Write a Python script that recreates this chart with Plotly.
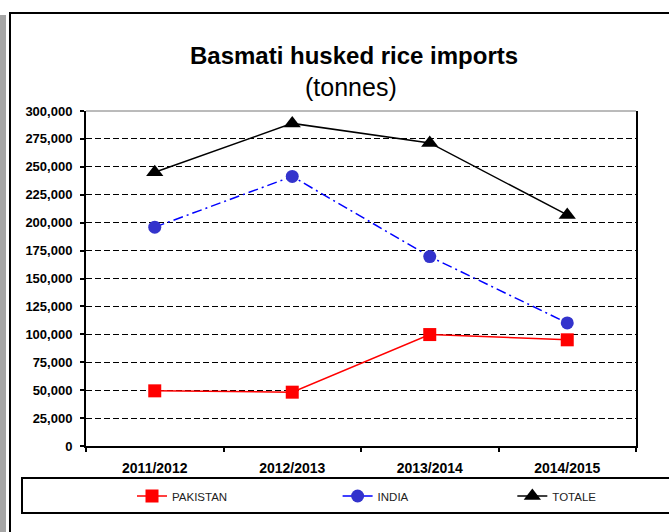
import plotly.graph_objects as go

categories = ["2011/2012", "2012/2013", "2013/2014", "2014/2015"]
pakistan = [49400, 48200, 99800, 95100]
india = [196000, 241400, 169600, 110200]
totale = [245200, 288900, 271400, 206900]
y_ticks = list(range(0, 300001, 25000))
series_names = ["PAKISTAN", "INDIA", "TOTALE"]

W, H = 669, 532
L, R, T, B = 86, 33, 111, 86
PW, PH = W - L - R, H - T - B

def px(x):
    return (x - L) / PW

def py(y):
    return (H - B - y) / PH

FONT = "Liberation Sans, Arial, sans-serif"
NB = "\u00a0"

fig = go.Figure()
fig.add_trace(go.Scatter(
    x=categories, y=pakistan, name=series_names[0] + NB * 33, mode="lines+markers",
    line=dict(color="#FF0000", width=1.5),
    marker=dict(symbol="square", size=13, color="#FF0000"),
))
fig.add_trace(go.Scatter(
    x=categories, y=india, name=series_names[1] + NB * 31, mode="lines+markers",
    line=dict(color="#0000FF", width=1.5, dash="10px,4px,2px,4px"),
    marker=dict(symbol="circle", size=13, color="#3333CC"),
))
fig.add_trace(go.Scatter(
    x=categories, y=totale, name=series_names[2], mode="lines+markers",
    line=dict(color="#000000", width=1.5),
    marker=dict(symbol="triangle-up", size=15, color="#000000"),
))

shapes = [
    dict(type="rect", xref="paper", yref="paper", x0=px(0), x1=px(6), y0=py(15), y1=py(560),
         fillcolor="#A6A6A6", line=dict(width=0)),
    dict(type="rect", xref="paper", yref="paper", x0=px(10), x1=px(700), y0=py(13), y1=py(560),
         fillcolor="rgba(0,0,0,0)", line=dict(color="#000000", width=2)),
    dict(type="rect", xref="paper", yref="paper", x0=px(22), x1=px(700), y0=py(478), y1=py(513),
         fillcolor="rgba(0,0,0,0)", line=dict(color="#000000", width=2)),
    dict(type="line", xref="paper", yref="paper", x0=0, x1=1, y0=1, y1=1,
         line=dict(color="#777777", width=1)),
]

fig.update_layout(
    width=W, height=H,
    margin=dict(l=L, r=R, t=T, b=B),
    paper_bgcolor="white", plot_bgcolor="white",
    font=dict(family=FONT, color="#000000"),
    showlegend=True,
    legend=dict(
        orientation="h", x=px(132), xanchor="left", y=py(496), yanchor="middle",
        font=dict(family=FONT, size=11.5, color="#222222"),
        bgcolor="rgba(0,0,0,0)", borderwidth=0,
    ),
    shapes=shapes,
    annotations=[
        dict(text="<b>Basmati husked rice imports</b>", xref="paper", yref="paper",
             x=px(353.5), y=py(55), xanchor="center", yanchor="middle", showarrow=False,
             font=dict(family=FONT, size=24, color="#000000")),
        dict(text="(tonnes)", xref="paper", yref="paper",
             x=px(351), y=py(87), xanchor="center", yanchor="middle", showarrow=False,
             font=dict(family=FONT, size=25, color="#000000")),
    ],
)

fig.update_xaxes(
    type="category", range=[-0.5, 3.5], tickson="boundaries",
    showline=True, linecolor="#000000", linewidth=2, mirror=False,
    ticks="outside", ticklen=4, tickwidth=1.5, tickcolor="#000000",
    showgrid=False, zeroline=False,
    tickfont=dict(family=FONT, size=14, color="#000000", weight="bold"),
    ticklabelstandoff=8,
)
fig.update_yaxes(
    range=[0, 300000], tickvals=y_ticks, tickformat=",d",
    showline=True, linecolor="#000000", linewidth=2, mirror=True,
    ticks="outside", ticklen=4, tickwidth=1.5, tickcolor="#000000",
    showgrid=True, gridcolor="#000000", gridwidth=1, griddash="6px,3px",
    zeroline=False,
    tickfont=dict(family=FONT, size=13, color="#000000", weight="bold"),
    ticklabelstandoff=5,
)

fig.write_html("out.html", config={"displayModeBar": False},
               post_script="document.body.style.margin='0';document.body.style.overflow='hidden';")
